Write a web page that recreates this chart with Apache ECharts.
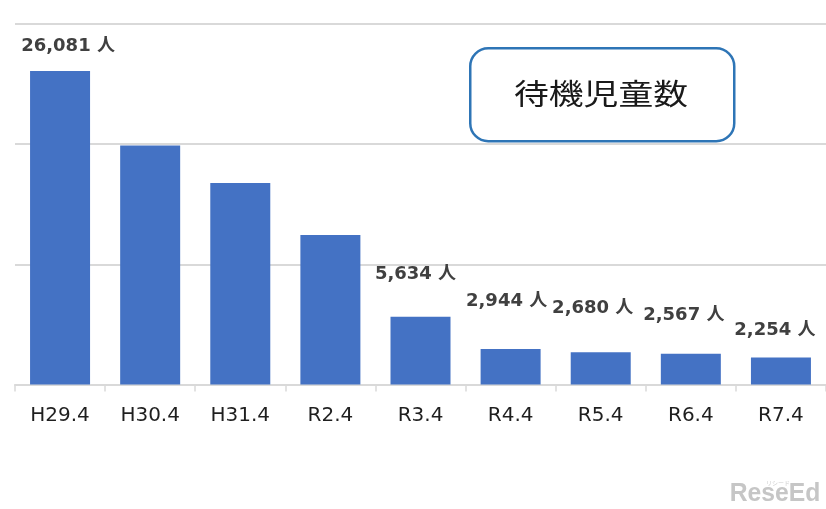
<!DOCTYPE html>
<html>
<head>
<meta charset="utf-8">
<script src="https://cdn.jsdelivr.net/npm/echarts@6/dist/echarts.min.js"></script>
<style>
html,body{margin:0;padding:0;background:#fff;}
#chart{width:826px;height:509px;}
</style>
</head>
<body>
<div id="chart"></div>
<script>
const categories = ['H29.4','H30.4','H31.4','R2.4','R3.4','R4.4','R5.4','R6.4','R7.4'];
const waitingChildren = [26081, 19895, 16772, 12439, 5634, 2944, 2680, 2567, 2254];
const showValueLabel = [true, false, false, false, true, true, true, true, true];
const yTicks = [0, 10000, 20000, 30000];
const titleText = '待機児童数';
const unit = '人';

// label placement tweaks (style only)
const labelOffsets = [[8,-15],[0,0],[0,0],[0,0],[-5,-32],[-4,-38],[-8,-34],[-7,-28],[-6,-17]];

const chart = echarts.init(document.getElementById('chart'), null, {renderer:'canvas'});

const seriesData = waitingChildren.map((v,i)=>({
  value: v,
  label: {show: showValueLabel[i], offset: labelOffsets[i]}
}));

chart.setOption({
  animation:false,
  backgroundColor:'#ffffff',
  grid:{left:15, top:24, width:812, height:360.5, containLabel:false},
  xAxis:{
    type:'category',
    data:categories,
    axisLine:{lineStyle:{color:'#d9d9d9', width:2}},
    axisTick:{show:true, length:7, lineStyle:{color:'#d9d9d9', width:1.5}},
    axisLabel:{color:'#1f1f1f', fontSize:20, fontFamily:'DejaVu Sans', margin:22, lineHeight:19, interval:0}
  },
  yAxis:{
    type:'value',
    min:yTicks[0], max:yTicks[yTicks.length-1], interval:yTicks[1]-yTicks[0],
    axisLine:{show:false}, axisTick:{show:false}, axisLabel:{show:false},
    splitLine:{lineStyle:{color:'#d9d9d9', width:2}}
  },
  series:[{
    type:'bar',
    data:seriesData,
    barWidth:60,
    itemStyle:{color:'#4472C4'},
    label:{
      position:'top', distance:0,
      fontFamily:'DejaVu Sans, "Noto Sans CJK JP"', fontWeight:'bold', fontSize:18, lineHeight:20,
      color:'#404040',
      formatter:(p)=>p.value.toLocaleString('en-US') + ' ' + unit
    }
  }],
  graphic:[
    {
      type:'rect', left:469, top:47,
      shape:{width:264, height:93, r:18},
      style:{fill:'#ffffff', stroke:'#2E75B6', lineWidth:2.5}
    },
    {
      type:'text', x:601, y:94,
      scaleX:1.2,
      style:{text:titleText, fill:'#1a1a1a', fontSize:29, fontFamily:'"Noto Sans CJK JP"', align:'center', verticalAlign:'middle'}
    },
    {
      type:'text', x:778, y:483,
      style:{text:'リシード', fill:'#cfcfcf', fontSize:6, fontFamily:'"Noto Sans CJK JP"', align:'center', verticalAlign:'middle'}
    },
    {
      type:'text', x:775, y:494,
      scaleX:0.95,
      style:{text:'ReseEd', fill:'#c6c6c6', fontSize:26, fontWeight:'bold', fontFamily:'"Liberation Sans"', align:'center', verticalAlign:'middle'}
    }
  ]
});
</script>
</body>
</html>
